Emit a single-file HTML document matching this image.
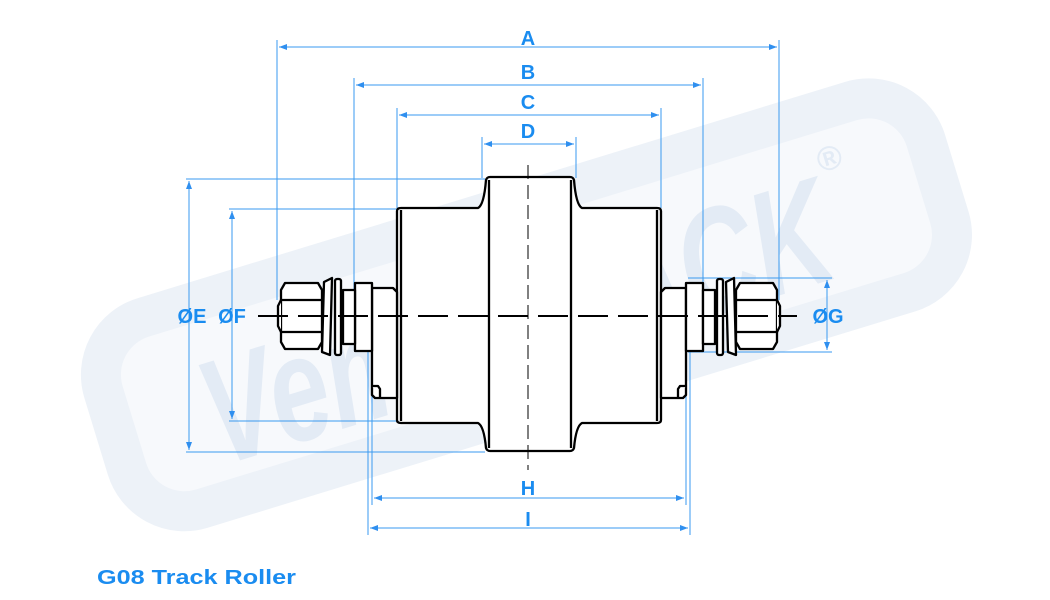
<!DOCTYPE html>
<html><head><style>
html,body{margin:0;padding:0;background:#fff;}
svg{display:block;}
text{font-family:"Liberation Sans",sans-serif;font-weight:bold;}
</style></head><body>
<svg width="1050" height="600" viewBox="0 0 1050 600" xmlns="http://www.w3.org/2000/svg">
<defs>
<marker id="ar" markerWidth="8" markerHeight="6" refX="8" refY="3" orient="auto-start-reverse" markerUnits="userSpaceOnUse">
<path d="M0,0 L8,3 L0,6 z" fill="#2f8fef"/></marker>
</defs>
<!-- watermark -->
<g transform="rotate(-17 525 300)">
<rect x="95" y="205" width="860" height="200" rx="60" fill="#f7f9fc" stroke="#edf2f8" stroke-width="40"/>
<text x="185" y="370" font-size="150" fill="#e3ebf5" font-style="italic" textLength="650" lengthAdjust="spacingAndGlyphs">VemaTRACK</text>
<text x="845" y="265" font-size="34" fill="#e3ebf5">®</text>
</g>
<!-- blue dimension lines -->
<g stroke="#3a9af0" stroke-width="1" fill="none">
<line x1="277" y1="40" x2="277" y2="300"/>
<line x1="779" y1="40" x2="779" y2="300"/>
<line x1="354" y1="78" x2="354" y2="290"/>
<line x1="703" y1="78" x2="703" y2="285"/>
<line x1="397" y1="108" x2="397" y2="208"/>
<line x1="661" y1="108" x2="661" y2="208"/>
<line x1="482" y1="137" x2="482" y2="178"/>
<line x1="576" y1="137" x2="576" y2="178"/>
<line x1="186" y1="179" x2="485" y2="179"/>
<line x1="186" y1="452" x2="485" y2="452"/>
<line x1="229" y1="209" x2="397" y2="209"/>
<line x1="229" y1="421" x2="397" y2="421"/>
<line x1="688" y1="278" x2="832" y2="278"/>
<line x1="688" y1="352" x2="832" y2="352"/>
<line x1="372" y1="380" x2="372" y2="505"/>
<line x1="368" y1="345" x2="368" y2="535"/>
<line x1="686" y1="380" x2="686" y2="505"/>
<line x1="690" y1="345" x2="690" y2="535"/>
<line x1="279" y1="47" x2="777" y2="47" marker-start="url(#ar)" marker-end="url(#ar)"/>
<line x1="356" y1="85" x2="701" y2="85" marker-start="url(#ar)" marker-end="url(#ar)"/>
<line x1="399" y1="115" x2="659" y2="115" marker-start="url(#ar)" marker-end="url(#ar)"/>
<line x1="484" y1="144" x2="574" y2="144" marker-start="url(#ar)" marker-end="url(#ar)"/>
<line x1="189" y1="181" x2="189" y2="450" marker-start="url(#ar)" marker-end="url(#ar)"/>
<line x1="232" y1="211" x2="232" y2="419" marker-start="url(#ar)" marker-end="url(#ar)"/>
<line x1="827" y1="280" x2="827" y2="350" marker-start="url(#ar)" marker-end="url(#ar)"/>
<line x1="374" y1="498" x2="684" y2="498" marker-start="url(#ar)" marker-end="url(#ar)"/>
<line x1="370" y1="528" x2="688" y2="528" marker-start="url(#ar)" marker-end="url(#ar)"/>
</g>
<g fill="#1a8cf0" font-size="20" text-anchor="middle">
<text x="528" y="45">A</text>
<text x="528" y="79">B</text>
<text x="528" y="109">C</text>
<text x="528" y="138">D</text>
<text x="192" y="323">ØE</text>
<text x="232" y="323">ØF</text>
<text x="828" y="323">ØG</text>
<text x="528" y="495">H</text>
<text x="528" y="526">I</text>
</g>
<text x="97" y="584" font-size="20" fill="#1a8cf0" textLength="199" lengthAdjust="spacingAndGlyphs">G08 Track Roller</text>
<!-- roller -->
<g stroke="#000" stroke-width="2.3" fill="#fff" stroke-linejoin="round">
<path d="M397,211 Q397,208 401,208 L478,208 Q484,205 486,180 Q487,177 490,177 L570,177 Q573,177 574,180 Q576,205 582,208 L657,208 Q661,208 661,211 L661,420 Q661,423 657,423 L582,423 Q576,426 574,448 Q573,451 570,451 L490,451 Q487,451 486,448 Q484,426 478,423 L401,423 Q397,423 397,420 Z"/>
<line x1="401" y1="210" x2="401" y2="421"/>
<line x1="489" y1="180" x2="489" y2="448"/>
<line x1="571" y1="180" x2="571" y2="448"/>
<line x1="657" y1="210" x2="657" y2="421"/>
<path d="M372,288 L393,288 L397,292 L397,398 L375,398 L372,395 Z"/>
<path d="M372,386 L378,386 L380,389 L380,398"/>
<rect x="355" y="283" width="17" height="68"/>
<rect x="343" y="290" width="12" height="54"/>
<rect x="335" y="279" width="6" height="76" rx="2"/>
<path d="M324,282 L332,278 L330,355 L322,352 Z"/>
<path d="M285,283 L318,283 L322,290 L322,342 L318,349 L285,349 L281,342 L281,290 Z"/>
<line x1="282" y1="300" x2="321" y2="300"/>
<line x1="282" y1="332" x2="321" y2="332"/>
<path d="M281,300 L278,306 L278,326 L281,332"/>
<path d="M686,288 L665,288 L661,292 L661,398 L683,398 L686,395 Z"/>
<path d="M686,386 L680,386 L678,389 L678,398"/>
<rect x="686" y="283" width="17" height="68"/>
<rect x="703" y="290" width="12" height="54"/>
<rect x="717" y="279" width="6" height="76" rx="2"/>
<path d="M726,282 L734,278 L736,355 L728,352 Z"/>
<path d="M740,283 L773,283 L777,290 L777,342 L773,349 L740,349 L736,342 L736,290 Z"/>
<line x1="737" y1="300" x2="776" y2="300"/>
<line x1="737" y1="332" x2="776" y2="332"/>
<path d="M777,300 L780,306 L780,326 L777,332"/>
</g>
<line x1="258" y1="316" x2="797" y2="316" stroke="#000" stroke-width="2" stroke-dasharray="30,10"/>
<line x1="528" y1="165" x2="528" y2="470" stroke="#000" stroke-width="1" stroke-dasharray="14,6"/>
</svg>
</body></html>
